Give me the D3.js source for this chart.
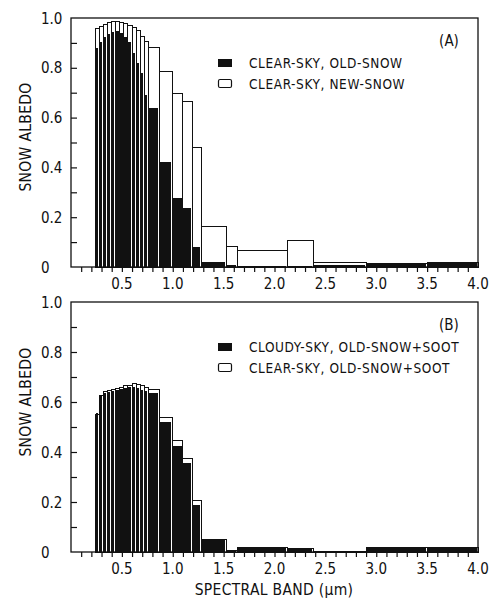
<!DOCTYPE html>
<html>
<head>
<meta charset="utf-8">
<script src="https://cdn.jsdelivr.net/npm/d3@7/dist/d3.min.js"></script>
<style>
  html, body { margin: 0; padding: 0; background: #fff; }
  svg { display: block; }
  text { font-family: "DejaVu Sans Condensed", "DejaVu Sans", sans-serif; fill: #111; }
</style>
</head>
<body>
<svg id="chart" width="497" height="605"></svg>
<script>
// Spectral band edges (µm); band i spans bandEdges[i]..bandEdges[i+1]
const bandEdges = [0.24, 0.28, 0.32, 0.36, 0.40, 0.44, 0.48, 0.52, 0.56, 0.60, 0.64, 0.68, 0.72, 0.76,
                   0.865, 0.995, 1.10, 1.19, 1.285, 1.53, 1.635, 2.13, 2.38, 2.90, 3.50, 4.00];

// Panel A: clear-sky albedo of new and old snow
const newSnowA = [0.958, 0.966, 0.974, 0.980, 0.984, 0.985, 0.983, 0.978, 0.970, 0.962, 0.950, 0.925, 0.905,
                  0.882, 0.787, 0.695, 0.664, 0.481, 0.162, 0.082, 0.068, 0.108, 0.019, 0.016, 0.018];
const oldSnowA = [0.878, 0.905, 0.922, 0.935, 0.945, 0.948, 0.940, 0.925, 0.905, 0.860, 0.820, 0.780, 0.690,
                  0.637, 0.420, 0.278, 0.236, 0.082, 0.020, 0.010, 0.006, 0.006, 0.008, 0.014, 0.016];

// Panel B: old snow with soot, clear vs cloudy sky
const clearSootB  = [0.550, 0.628, 0.641, 0.648, 0.650, 0.655, 0.660, 0.665, 0.668, 0.675, 0.670, 0.668, 0.660,
                     0.652, 0.537, 0.445, 0.375, 0.208, 0.050, 0.005, 0.018, 0.016, 0.004, 0.018, 0.019];
const cloudySootB = [0.557, 0.624, 0.635, 0.640, 0.643, 0.647, 0.652, 0.656, 0.660, 0.662, 0.657, 0.650, 0.645,
                     0.635, 0.521, 0.424, 0.355, 0.188, 0.048, 0.004, 0.016, 0.014, 0.003, 0.016, 0.018];

const xTickLabels = ["0.5", "1.0", "1.5", "2.0", "2.5", "3.0", "3.5", "4.0"];
const yTickLabels = ["0", "0.2", "0.4", "0.6", "0.8", "1.0"];

const legendA = ["CLEAR-SKY, OLD-SNOW", "CLEAR-SKY, NEW-SNOW"];
const legendB = ["CLOUDY-SKY, OLD-SNOW+SOOT", "CLEAR-SKY, OLD-SNOW+SOOT"];

const svg = d3.select("#chart");
const x = d3.scaleLinear().domain([0, 4]).range([71, 478]);

const panels = [
  { top: 18,  bottom: 267, front: oldSnowA,    back: newSnowA,   tag: "(A)", legend: legendA, titleY: 137 },
  { top: 302, bottom: 552, front: cloudySootB, back: clearSootB, tag: "(B)", legend: legendB, titleY: 402 }
];

const bands = d3.range(bandEdges.length - 1).map(i => ({ x0: bandEdges[i], x1: bandEdges[i + 1], i }));

panels.forEach(p => {
  const y = d3.scaleLinear().domain([0, 1]).range([p.bottom, p.top]);
  const g = svg.append("g");

  // back series: open bars with outline
  g.append("g").attr("shape-rendering", "crispEdges")
    .selectAll("rect").data(bands).join("rect")
    .attr("x", d => x(d.x0))
    .attr("width", d => x(d.x1) - x(d.x0))
    .attr("y", d => y(p.back[d.i]))
    .attr("height", d => y(0) - y(p.back[d.i]))
    .attr("fill", "#fff").attr("stroke", "#111").attr("stroke-width", 1);

  // front series: solid bars, leaving a thin white slit before the next band
  g.append("g").attr("shape-rendering", "crispEdges")
    .selectAll("rect").data(bands).join("rect")
    .attr("x", d => x(d.x0) + 0.5)
    .attr("width", d => Math.max(1, x(d.x1) - x(d.x0) - 1.8))
    .attr("y", d => y(p.front[d.i]))
    .attr("height", d => y(0) - y(p.front[d.i]))
    .attr("fill", "#111");

  // frame
  g.append("rect")
    .attr("x", x(0)).attr("y", p.top)
    .attr("width", x(4) - x(0)).attr("height", p.bottom - p.top)
    .attr("fill", "none").attr("stroke", "#111").attr("stroke-width", 1.3);

  // y ticks (inside)
  const yAxis = d3.axisRight(y).tickValues(d3.range(1, 10).map(v => v / 10)).tickSize(6).tickFormat("");
  g.append("g").attr("transform", `translate(${x(0)},0)`).call(yAxis)
    .call(a => a.select(".domain").remove())
    .selectAll("line").attr("stroke", "#111").attr("stroke-width", 1.2);

  // y tick labels
  g.append("g").selectAll("text").data(yTickLabels).join("text")
    .attr("x", 41)
    .attr("y", d => y(+d) + 5.5)
    .attr("font-size", 15)
    .text(d => d);

  // x ticks (outside)
  const xAxis = d3.axisBottom(x).tickValues(d3.range(1, 40).map(v => v / 10)).tickSize(5).tickFormat("");
  g.append("g").attr("transform", `translate(0,${p.bottom})`).call(xAxis)
    .call(a => a.select(".domain").remove())
    .selectAll("line").attr("stroke", "#111").attr("stroke-width", 1.2);

  // x tick labels
  g.append("g").selectAll("text").data(xTickLabels).join("text")
    .attr("x", d => x(+d))
    .attr("y", p.bottom + 22)
    .attr("text-anchor", "middle")
    .attr("font-size", 15)
    .text(d => d);

  // y title
  g.append("text")
    .attr("transform", `translate(31,${p.titleY}) rotate(-90)`)
    .attr("text-anchor", "middle")
    .attr("font-size", 15.5)
    .attr("letter-spacing", 0.3)
    .text("SNOW ALBEDO");

  // panel tag
  g.append("text")
    .attr("x", 449).attr("y", p.top + 28)
    .attr("text-anchor", "middle")
    .attr("font-size", 15)
    .text(p.tag);

  // legend
  const lg = g.append("g").attr("transform", `translate(218,${p.top + 41})`);
  lg.append("rect").attr("x", 0).attr("y", 0).attr("width", 14).attr("height", 8).attr("fill", "#111");
  lg.append("rect").attr("x", 0.5).attr("y", 20.5).attr("width", 13).attr("height", 8).attr("rx", 1.5)
    .attr("fill", "#fff").attr("stroke", "#111").attr("stroke-width", 1.2);
  lg.selectAll("text").data(p.legend).join("text")
    .attr("x", 31)
    .attr("y", (d, i) => 8.5 + i * 21)
    .attr("font-size", 13.5)
    .attr("letter-spacing", 0.6)
    .text(d => d);
});

// x title
svg.append("text")
  .attr("x", 274).attr("y", 595)
  .attr("text-anchor", "middle")
  .attr("font-size", 15.5)
  .attr("letter-spacing", 0.3)
  .text("SPECTRAL BAND (µm)");
</script>
</body>
</html>
